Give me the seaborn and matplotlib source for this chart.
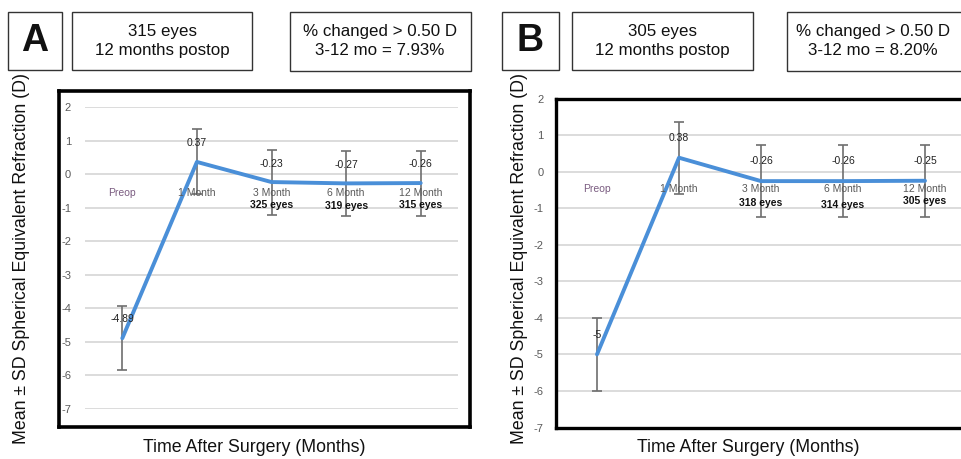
import matplotlib
matplotlib.use("Agg")
import matplotlib.pyplot as plt
from matplotlib.patches import Rectangle
import seaborn as sns
import pandas as pd

# ---- data ----
categories = ["Preop", "1 Month", "3 Month", "6 Month", "12 Month"]
means_a = [-4.89, 0.37, -0.23, -0.27, -0.26]
sd_a = [0.96, 0.97, 0.97, 0.97, 0.97]
labels_a = ["-4.89", "0.37", "-0.23", "-0.27", "-0.26"]
eyes_a = ["", "", "325 eyes", "319 eyes", "315 eyes"]

means_b = [-5.00, 0.38, -0.26, -0.26, -0.25]
sd_b = [1.00, 0.99, 0.99, 0.99, 0.99]
labels_b = ["-5", "0.38", "-0.26", "-0.26", "-0.25"]
eyes_b = ["", "", "318 eyes", "314 eyes", "305 eyes"]

yticks = [2, 1, 0, -1, -2, -3, -4, -5, -6, -7]
ylabel = "Mean \u00b1 SD Spherical Equivalent Refraction (D)"
xlabel = "Time After Surgery (Months)"

sns.set_theme(style="white")
plt.rcParams["font.family"] = ["Liberation Sans", "DejaVu Sans"]

W, H = 961, 459
fig = plt.figure(figsize=(W / 100, H / 100), dpi=100)


def fx(px):
    return px / W


def fy(py):
    return 1 - py / H


def box(x0, y0, x1, y1):
    fig.add_artist(Rectangle((fx(x0), fy(y1)), fx(x1) - fx(x0), fy(y0) - fy(y1),
                             transform=fig.transFigure, fill=False,
                             edgecolor="#333333", linewidth=1.0))


LINE = "#4A8FD8"
ERR = "#6E6E6E"
TICKC = "#595959"


def draw_panel(ax, means, sds, labels, eyes, cat_y, eye_ys, lab_ys):
    df = pd.DataFrame({"x": list(range(len(categories))), "mean": means, "sd": sds})
    ax.set_facecolor("none")
    ax.errorbar(df["x"], df["mean"], yerr=df["sd"], fmt="none", ecolor=ERR,
                elinewidth=1.2, capsize=3.5, capthick=1.2, zorder=2)
    sns.lineplot(data=df, x="x", y="mean", ax=ax, color=LINE, linewidth=2.8,
                 zorder=3, legend=False)
    ax.set_xlim(-0.5, len(categories) - 0.5)
    ax.set_ylim(-7, 2)
    ax.set_yticks(yticks)
    ax.set_yticklabels([str(t) for t in yticks], color=TICKC, fontsize=8)
    ax.set_xticks([])
    ax.set_xlabel("")
    ax.set_ylabel("")
    ax.yaxis.grid(True, color="#D9D9D9", linewidth=1.3)
    ax.set_axisbelow(True)
    ax.tick_params(axis="y", length=0)
    for i, c in enumerate(categories):
        ax.text(i, cat_y, c, ha="center", va="center", fontsize=7.5,
                color="#7A5C80" if i == 0 else TICKC, zorder=4)
        if eyes[i]:
            ax.text(i, eye_ys[i], eyes[i], ha="center", va="center", fontsize=7.5,
                    fontweight="bold", color="#111111", zorder=4)
        ax.text(i, lab_ys[i], labels[i], ha="center", va="center", fontsize=7.5,
                color="#222222", zorder=4)


# ---- panel A ----
frame_a = fig.add_axes([fx(59), fy(427), fx(470) - fx(59), fy(91) - fy(427)])
frame_a.set_xticks([])
frame_a.set_yticks([])
frame_a.set_facecolor("white")
for s in frame_a.spines.values():
    s.set_visible(True)
    s.set_color("black")
    s.set_linewidth(2.6)

ax_a = fig.add_axes([fx(85), fy(409), fx(458) - fx(85), fy(107.3) - fy(409)])
for s in ax_a.spines.values():
    s.set_visible(False)
ax_a.tick_params(axis="y", pad=10)
draw_panel(ax_a, means_a, sd_a, labels_a, eyes_a, -0.56,
           [0, 0, -0.92, -0.94, -0.92], [-4.32, 0.93, 0.3, 0.28, 0.3])

# ---- panel B ----
ax_b = fig.add_axes([fx(556), fy(427.5), fx(966) - fx(556), fy(98.5) - fy(427.5)])
for side in ["left", "top", "bottom"]:
    ax_b.spines[side].set_visible(True)
    ax_b.spines[side].set_color("black")
    ax_b.spines[side].set_linewidth(2.4)
ax_b.spines["right"].set_visible(False)
ax_b.tick_params(axis="y", pad=9)
draw_panel(ax_b, means_b, sd_b, labels_b, eyes_b, -0.48,
           [0, 0, -0.86, -0.91, -0.8], [-4.47, 0.93, 0.3, 0.3, 0.3])

# ---- y / x labels ----
for xc in (22, 519):
    fig.text(fx(xc), fy(259), ylabel, rotation=90, ha="center", va="center",
             fontsize=12.75, color="#111111")
fig.text(fx(254), fy(448), xlabel, ha="center", va="center", fontsize=12.8, color="#111111")
fig.text(fx(748), fy(448), xlabel, ha="center", va="center", fontsize=12.8, color="#111111")

# ---- header boxes ----
box(8, 12, 62, 70)
fig.text(fx(35), fy(41), "A", ha="center", va="center", fontsize=27, fontweight="bold",
         color="#111111")
box(72, 12, 252, 70)
fig.text(fx(162), fy(41), "315 eyes\n12 months postop", ha="center", va="center",
         fontsize=12.2, linespacing=1.3, color="#111111")
box(290, 12, 471, 71)
fig.text(fx(380), fy(41), "% changed > 0.50 D\n3-12 mo = 7.93%", ha="center", va="center",
         fontsize=12.2, linespacing=1.3, color="#111111")

box(502, 12, 559, 70)
fig.text(fx(530), fy(41), "B", ha="center", va="center", fontsize=27, fontweight="bold",
         color="#111111")
box(572, 12, 753, 70)
fig.text(fx(662), fy(41), "305 eyes\n12 months postop", ha="center", va="center",
         fontsize=12.2, linespacing=1.3, color="#111111")
box(787, 12, 975, 71)
fig.text(fx(873), fy(41), "% changed > 0.50 D\n3-12 mo = 8.20%", ha="center", va="center",
         fontsize=12.2, linespacing=1.3, color="#111111")

fig.savefig("out.png", dpi=100)
